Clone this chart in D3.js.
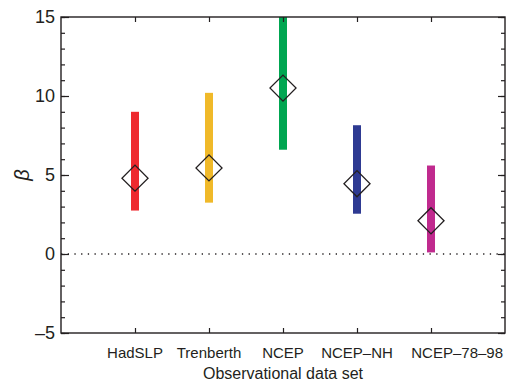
<!DOCTYPE html>
<html>
<head>
<meta charset="utf-8">
<script src="https://cdn.jsdelivr.net/npm/d3@7"></script>
<style>
  body { margin: 0; background: #fff; }
  text { font-family: "Liberation Sans", Arial, Helvetica, sans-serif; fill: #231f20; }
</style>
</head>
<body>
<div id="chart"></div>
<script>
var width = 507,
    height = 383;

var categories = ["HadSLP", "Trenberth", "NCEP", "NCEP\u2013NH", "NCEP\u201378\u201398"];
var lower = [2.75, 3.25, 6.6, 2.55, 0.1];
var upper = [9.0, 10.2, 15, 8.15, 5.6];
var best = [4.8, 5.45, 10.5, 4.45, 2.1];
var colors = ["#ee2a2f", "#f0b929", "#00a651", "#2e3a92", "#c02a8e"];
var yTicks = [-5, 0, 5, 10, 15];

var margin = {left: 61, right: 2, top: 17, bottom: 50};

var svg = d3.select("#chart").append("svg")
    .attr("width", width)
    .attr("height", height);

var nx = categories.length + 1;
var x = d3.scaleLinear().domain([0, nx])
    .range([margin.left, width - margin.right]);
var y = d3.scaleLinear().domain([-5, 15])
    .range([height - margin.bottom, margin.top]);

var ink = "#231f20";

// zero line
svg.append("line")
    .attr("x1", x(0)).attr("x2", x(nx))
    .attr("y1", y(0)).attr("y2", y(0))
    .attr("stroke", ink).attr("stroke-width", 1.3)
    .attr("stroke-dasharray", "1.3,5.4");

// bars
svg.append("g").selectAll("rect")
    .data(categories)
    .enter().append("rect")
    .attr("x", function(d, i) { return x(i + 1) - 4; })
    .attr("width", 8)
    .attr("y", function(d, i) { return y(upper[i]); })
    .attr("height", function(d, i) { return y(lower[i]) - y(upper[i]); })
    .attr("fill", function(d, i) { return colors[i]; });

// diamonds
var diamond = d3.symbol().type(d3.symbolSquare).size(340);
svg.append("g").selectAll("path")
    .data(categories)
    .enter().append("path")
    .attr("d", diamond)
    .attr("transform", function(d, i) {
      return "translate(" + x(i + 1) + "," + y(best[i]) + ") rotate(45)";
    })
    .attr("fill", "none")
    .attr("stroke", ink)
    .attr("stroke-width", 1.3);

// axes: ticks pointing inward
var catTicks = d3.range(1, nx);
var minor = d3.range(-5, 16, 1);

function noDomain(g) { g.select(".domain").remove(); }

svg.append("g")
    .attr("transform", "translate(0," + y(-5) + ")")
    .call(d3.axisTop(x).tickValues(catTicks).tickSize(5).tickFormat(""))
    .call(noDomain);
svg.append("g")
    .attr("transform", "translate(0," + y(15) + ")")
    .call(d3.axisBottom(x).tickValues(catTicks).tickSize(5).tickFormat(""))
    .call(noDomain);

svg.append("g")
    .attr("transform", "translate(" + x(0) + ",0)")
    .call(d3.axisRight(y).tickValues(minor).tickSize(4).tickFormat(""))
    .call(noDomain);
svg.append("g")
    .attr("transform", "translate(" + x(0) + ",0)")
    .call(d3.axisRight(y).tickValues(yTicks).tickSize(8).tickFormat(""))
    .call(noDomain);
svg.append("g")
    .attr("transform", "translate(" + x(nx) + ",0)")
    .call(d3.axisLeft(y).tickValues(minor).tickSize(4).tickFormat(""))
    .call(noDomain);
svg.append("g")
    .attr("transform", "translate(" + x(nx) + ",0)")
    .call(d3.axisLeft(y).tickValues(yTicks).tickSize(7).tickFormat(""))
    .call(noDomain);

svg.selectAll(".tick line").attr("stroke", ink).attr("stroke-width", 1.2);

// frame
svg.append("rect")
    .attr("x", x(0)).attr("y", y(15))
    .attr("width", x(nx) - x(0))
    .attr("height", y(-5) - y(15))
    .attr("fill", "none")
    .attr("stroke", ink)
    .attr("stroke-width", 1.4);

// y tick labels
svg.append("g").selectAll("text")
    .data(yTicks)
    .enter().append("text")
    .attr("x", x(0) - 6)
    .attr("y", function(d) { return y(d); })
    .attr("dy", "0.36em")
    .attr("text-anchor", "end")
    .style("font-size", "18px")
    .text(function(d) { return d < 0 ? "\u2013" + Math.abs(d) : d; });

// category labels (the last one is pushed right so it fits the frame)
svg.append("g").selectAll("text")
    .data(categories)
    .enter().append("text")
    .attr("x", function(d, i) { return i === categories.length - 1 ? x(nx) - 2 : x(i + 1); })
    .attr("y", 358)
    .attr("text-anchor", function(d, i) { return i === categories.length - 1 ? "end" : "middle"; })
    .style("font-size", "15px")
    .text(function(d) { return d; });

// axis titles
svg.append("text")
    .attr("x", x(3))
    .attr("y", 379)
    .attr("text-anchor", "middle")
    .style("font-size", "16px")
    .text("Observational data set");

svg.append("text")
    .attr("transform", "translate(29," + y(5) + ") rotate(-90)")
    .attr("text-anchor", "middle")
    .style("font-size", "20px")
    .style("font-style", "italic")
    .text("\u03b2");
</script>
</body>
</html>
